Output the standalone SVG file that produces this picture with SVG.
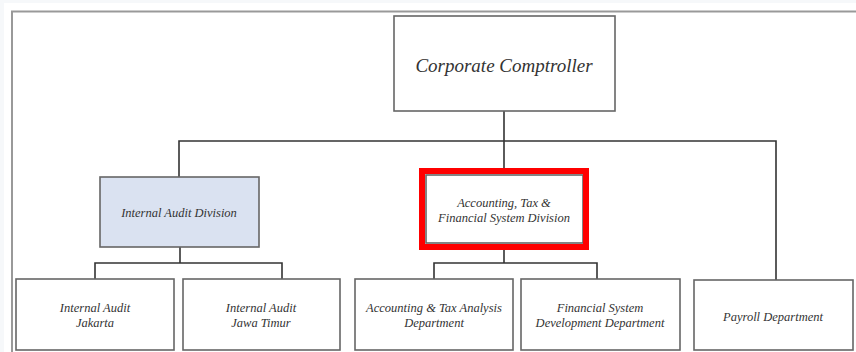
<svg xmlns="http://www.w3.org/2000/svg" width="856" height="352" viewBox="0 0 856 352">
<style>
.box{fill:#ffffff;stroke:#666666;stroke-width:1.6}
.blue{fill:#dae2f1}
.red{fill:none;stroke:#ff0000;stroke-width:6}
.t{font-family:'Liberation Serif',serif;font-style:italic;fill:#333333;text-anchor:middle}
.s{font-size:12.5px}
.conn{fill:none;stroke:#333333;stroke-width:1.6}
</style>
<rect x="0" y="0" width="856" height="352" fill="#ffffff"/>
<rect x="0" y="0" width="856" height="3" fill="#f6f8fa"/>
<rect x="0" y="0" width="4" height="352" fill="#f6f8fa"/>
<path d="M12,352 V11.5 H856" fill="none" stroke="#999999" stroke-width="2"/>
<g id="connectors">
<path class="conn" d="M504,111 V171"/>
<path class="conn" d="M179,177 V141 H776 V280"/>
<path class="conn" d="M180,247 V263"/>
<path class="conn" d="M95,279 V263 H282 V279"/>
<path class="conn" d="M504,250 V263"/>
<path class="conn" d="M434,279 V263 H597 V279"/>
</g>
<g id="corporate-comptroller">
<rect class="box" x="394" y="16" width="221" height="95"/>
<text class="t" x="504" y="72" font-size="19" font-family="Liberation Serif, serif">Corporate Comptroller</text>
</g>
<g id="internal-audit-division">
<rect class="box blue" x="100" y="177" width="159" height="70"/>
<text class="t s" x="179" y="217">Internal Audit Division</text>
</g>
<g id="accounting-tax-division">
<rect class="box" x="426" y="175" width="157" height="68"/>
<rect class="red" x="422" y="171" width="164" height="76"/>
<text class="t s" x="504" y="207">Accounting, Tax &amp;</text>
<text class="t s" x="504" y="222">Financial System Division</text>
</g>
<g id="internal-audit-jakarta">
<rect class="box" x="16" y="279" width="158" height="71"/>
<text class="t s" x="95" y="312">Internal Audit</text>
<text class="t s" x="95" y="327">Jakarta</text>
</g>
<g id="internal-audit-jawa-timur">
<rect class="box" x="183" y="279" width="157" height="71"/>
<text class="t s" x="261" y="312">Internal Audit</text>
<text class="t s" x="261" y="327">Jawa Timur</text>
</g>
<g id="accounting-tax-analysis">
<rect class="box" x="355" y="279" width="158" height="71"/>
<text class="t s" x="434" y="312">Accounting &amp; Tax Analysis</text>
<text class="t s" x="434" y="327">Department</text>
</g>
<g id="financial-system-development">
<rect class="box" x="521" y="279" width="159" height="71"/>
<text class="t s" x="600" y="312">Financial System</text>
<text class="t s" x="600" y="327">Development Department</text>
</g>
<g id="payroll-department">
<rect class="box" x="694" y="280" width="159" height="70"/>
<text class="t s" x="773" y="321">Payroll Department</text>
</g>
</svg>
